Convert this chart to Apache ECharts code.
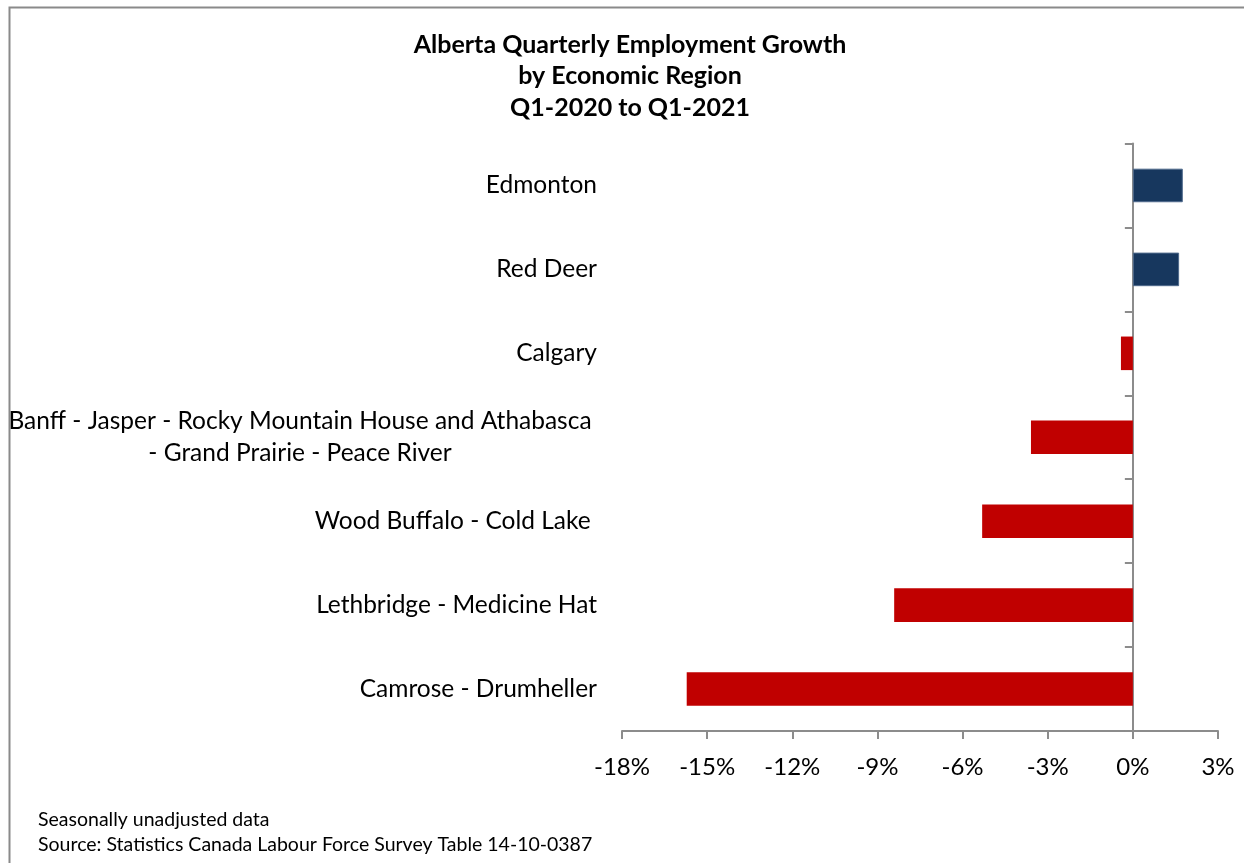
<!DOCTYPE html>
<html>
<head>
<meta charset="utf-8">
<script src="https://cdn.jsdelivr.net/npm/echarts@6/dist/echarts.min.js"></script>
<style>
  html, body { margin: 0; padding: 0; background: #fff; }
  #main { width: 1244px; height: 863px; }
</style>
</head>
<body>
<div id="main"></div>
<script>
// regions, top to bottom as in the chart
var regions = [
    'Edmonton',
    'Red Deer',
    'Calgary',
    'Banff - Jasper - Rocky Mountain House and Athabasca\n- Grand Prairie - Peace River',
    'Wood Buffalo - Cold Lake ',
    'Lethbridge - Medicine Hat',
    'Camrose - Drumheller'
];
// employment growth, percent
var growth = [1.76, 1.63, -0.42, -3.59, -5.31, -8.41, -15.72];
var xTicks = { min: -18, max: 3, step: 3 };

var titleLines = ['Alberta Quarterly Employment Growth', 'by Economic Region', 'Q1-2020 to Q1-2021'];
var notes = ['Seasonally unadjusted data', 'Source: Statistics Canada Labour Force Survey Table 14-10-0387'];

var fontName = 'Lato, "Open Sans", sans-serif';
var axisGray = '#8c8c8c';

var barData = [];
for (var i = 0; i < growth.length; i++) {
    var up = growth[i] >= 0;
    barData.push({
        value: growth[i],
        itemStyle: {
            color: up ? '#17375E' : '#C00000',
            borderColor: up ? '#4F6A8C' : '#C00000',
            borderWidth: up ? 1 : 0
        }
    });
}

var chart = echarts.init(document.getElementById('main'));

var option = {
    animation: false,
    backgroundColor: '#fff',
    grid: { left: 621, right: 26, top: 143.5, bottom: 132, containLabel: false },
    xAxis: {
        type: 'value',
        min: xTicks.min,
        max: xTicks.max,
        interval: xTicks.step,
        axisLine: { show: true, lineStyle: { color: axisGray, width: 2 } },
        axisTick: { show: true, length: 8, lineStyle: { color: axisGray, width: 2 } },
        splitLine: { show: false },
        axisLabel: {
            margin: 24,
            color: '#000',
            fontFamily: fontName,
            fontSize: 24,
            formatter: '{value}%'
        }
    },
    yAxis: [{
        // labels on the left
        type: 'category',
        inverse: true,
        data: regions,
        position: 'left',
        axisLine: { show: false, onZero: false },
        axisTick: { show: false },
        axisLabel: {
            margin: 25,
            color: '#000',
            fontFamily: fontName,
            fontSize: 24.5,
            lineHeight: 32,
            formatter: function(v) {
                if (v.indexOf('\n') < 0) return v;
                return v.split('\n').map(function(s) { return '{c|' + s + '}'; }).join('\n');
            },
            rich: {
                c: { width: 594, align: 'center', fontFamily: fontName, fontSize: 24.5, lineHeight: 32, color: '#000' }
            }
        }
    }, {
        // axis line at zero
        type: 'category',
        inverse: true,
        data: regions,
        position: 'left',
        axisLine: { show: true, onZero: true, lineStyle: { color: axisGray, width: 2 } },
        axisTick: { show: true, length: 8, lineStyle: { color: axisGray, width: 2 } },
        axisLabel: { show: false }
    }],
    series: [{
        type: 'bar',
        yAxisIndex: 0,
        barWidth: '40%',
        data: barData
    }],
    graphic: [{
        type: 'rect',
        shape: { x: 9.5, y: 7.5, width: 1400, height: 1000 },
        style: { fill: 'none', stroke: '#8a8a8a', lineWidth: 2 },
        silent: true
    }, {
        type: 'text',
        style: {
            x: 630, y: 29,
            text: titleLines.join('\n'),
            textAlign: 'center',
            font: 'bold 25px ' + fontName,
            lineHeight: 31.5,
            fill: '#000'
        }
    }, {
        type: 'text',
        style: {
            x: 38, y: 807,
            text: notes.join('\n'),
            font: '19.5px ' + fontName,
            lineHeight: 25,
            fill: '#000'
        }
    }]
};

chart.setOption(option);
</script>
</body>
</html>
